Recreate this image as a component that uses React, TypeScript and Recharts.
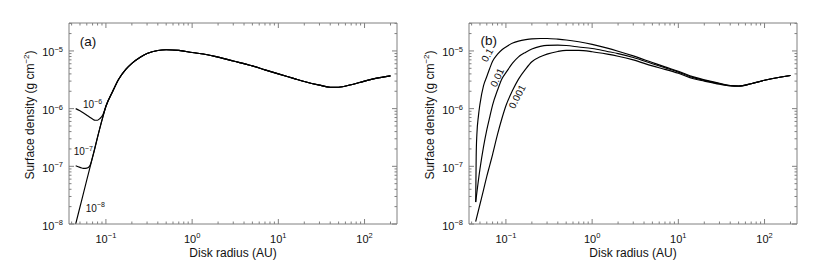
import React from 'react';
import { LineChart, Line, XAxis, YAxis, ReferenceDot, Label } from 'recharts';

// ---------- data ----------
// Panel (a): curves labelled 10^-8 (main), 10^-6, 10^-7
const radiusHeadA = [0.0446, 0.05, 0.055, 0.06, 0.065, 0.07, 0.08, 0.09, 0.1];
const sigmaHeadA8 = [1e-8, 1.97e-8, 3.47e-8, 5.8e-8, 9.3e-8, 1.44e-7, 3.2e-7, 6.3e-7, 1.1e-6];
const radiusTailA = [0.12, 0.14, 0.17, 0.2, 0.25, 0.3, 0.4, 0.5, 0.7, 1, 1.5, 2, 3, 5, 7, 10, 15, 20, 30, 40, 50, 70, 100, 150, 200];
const sigmaTailA = [2.0e-6, 3.2e-6, 4.8e-6, 6.1e-6, 7.8e-6, 9.0e-6, 1.02e-5, 1.05e-5, 1.02e-5, 9.4e-6, 8.6e-6, 7.8e-6, 6.7e-6, 5.5e-6, 4.7e-6, 4.0e-6, 3.35e-6, 2.95e-6, 2.55e-6, 2.35e-6, 2.35e-6, 2.6e-6, 3.0e-6, 3.45e-6, 3.7e-6];
const radiusHeadA6 = [0.0446, 0.05, 0.055, 0.06, 0.065, 0.07, 0.075, 0.08, 0.085, 0.0925, 0.1];
const sigmaHeadA6 = [1.0e-6, 9.2e-7, 8.4e-7, 7.7e-7, 7.1e-7, 6.6e-7, 6.3e-7, 6.3e-7, 6.7e-7, 7.9e-7, 1.1e-6];
const radiusHeadA7 = [0.0446, 0.05, 0.055, 0.06, 0.065, 0.07, 0.08, 0.09, 0.1];
const sigmaHeadA7 = [1.02e-7, 9.6e-8, 9.2e-8, 9.3e-8, 1.02e-7, 1.44e-7, 3.2e-7, 6.3e-7, 1.1e-6];

// Panel (b): curves labelled 0.1, 0.01, 0.001
const radiusB = [0.0446, 0.05, 0.055, 0.06, 0.065, 0.07, 0.08, 0.09, 0.1, 0.12, 0.14, 0.17, 0.2, 0.25, 0.3, 0.4, 0.5, 0.7, 1, 1.5, 2, 3, 5, 7, 10, 15, 20, 30, 40, 50, 70, 100, 150, 200];
const sigmaB001 = [1.1e-8, 2.2e-8, 3.9e-8, 6.7e-8, 1.05e-7, 1.6e-7, 3.6e-7, 6.8e-7, 1.12e-6, 2.1e-6, 3.25e-6, 4.9e-6, 6.5e-6, 7.9e-6, 8.8e-6, 9.8e-6, 1.02e-5, 1.02e-5, 9.7e-6, 8.8e-6, 8.1e-6, 7.0e-6, 5.5e-6, 4.8e-6, 4.1e-6, 3.3e-6, 3.0e-6, 2.65e-6, 2.48e-6, 2.45e-6, 2.7e-6, 3.1e-6, 3.5e-6, 3.75e-6];
const sigmaB01 = [2.4e-8, 9e-8, 2.2e-7, 4.3e-7, 7.2e-7, 1.15e-6, 2.1e-6, 3.3e-6, 4.2e-6, 6.2e-6, 7.9e-6, 9.5e-6, 1.08e-5, 1.2e-5, 1.25e-5, 1.26e-5, 1.24e-5, 1.17e-5, 1.1e-5, 9.8e-6, 9.0e-6, 7.7e-6, 6.0e-6, 5.1e-6, 4.3e-6, 3.45e-6, 3.1e-6, 2.7e-6, 2.5e-6, 2.47e-6, 2.7e-6, 3.1e-6, 3.5e-6, 3.75e-6];
const radiusB1 = [0.0446, 0.0452, 0.046, 0.048, 0.05, 0.055, 0.06, 0.065, 0.07, 0.08, 0.09, 0.1, 0.12, 0.14, 0.17, 0.2, 0.25, 0.3, 0.4, 0.5, 0.7, 1, 1.5, 2, 3, 5, 7, 10, 15, 20, 30, 40, 50, 70, 100, 150, 200];
const sigmaB1 = [2.4e-8, 1.5e-7, 3.5e-7, 7.5e-7, 1.2e-6, 2.5e-6, 3.6e-6, 5.0e-6, 6.6e-6, 8.8e-6, 1.05e-5, 1.17e-5, 1.37e-5, 1.48e-5, 1.57e-5, 1.62e-5, 1.64e-5, 1.64e-5, 1.6e-5, 1.55e-5, 1.44e-5, 1.3e-5, 1.12e-5, 9.9e-6, 8.2e-6, 6.3e-6, 5.3e-6, 4.45e-6, 3.55e-6, 3.15e-6, 2.75e-6, 2.52e-6, 2.47e-6, 2.7e-6, 3.1e-6, 3.5e-6, 3.75e-6];

// ticks
const xTicks = [0.04, 0.05, 0.06, 0.07, 0.08, 0.09, 0.1, 0.2, 0.3, 0.4, 0.5, 0.6, 0.7, 0.8, 0.9, 1, 2, 3, 4, 5, 6, 7, 8, 9, 10, 20, 30, 40, 50, 60, 70, 80, 90, 100, 200];
const yTicks = [1e-8, 2e-8, 3e-8, 4e-8, 5e-8, 6e-8, 7e-8, 8e-8, 9e-8, 1e-7, 2e-7, 3e-7, 4e-7, 5e-7, 6e-7, 7e-7, 8e-7, 9e-7, 1e-6, 2e-6, 3e-6, 4e-6, 5e-6, 6e-6, 7e-6, 8e-6, 9e-6, 1e-5, 2e-5, 3e-5];
const X_DOMAIN: [number, number] = [0.0373, 238];
const Y_DOMAIN: [number, number] = [1e-8, 3.05e-5];

// annotations (data coordinates)
const notesA = [
  { x: 0.0497, y: 1.22e-5, base: '(a)', exp: '', kind: 'panel' },
  { x: 0.0542, y: 1.01e-6, base: '10', exp: '\u22126', kind: 'curve' },
  { x: 0.0423, y: 1.57e-7, base: '10', exp: '\u22127', kind: 'curve' },
  { x: 0.0583, y: 1.63e-8, base: '10', exp: '\u22128', kind: 'curve' },
];
const notesB = [
  { x: 0.0506, y: 1.28e-5, base: '(b)', exp: '', kind: 'panel' },
  { x: 0.0607, y: 8.5e-6, base: '0.1', exp: '', kind: 'rot', angle: -62 },
  { x: 0.0792, y: 3.46e-6, base: '0.01', exp: '', kind: 'rot', angle: -65 },
  { x: 0.135, y: 1.61e-6, base: '0.001', exp: '', kind: 'rot', angle: -63 },
];

// ---------- styling / layout ----------
const FRAME = '#808080';
const INK = '#111';
const FONT = '"Liberation Sans", Arial, Helvetica, sans-serif';
const MAJOR = 5;
const MINOR = 2.5;
const CHART_H = 270;
const TOP = 23;
const X_AXIS_H = 46;
const PLOT_W = 328;
const PLOT_H = CHART_H - TOP - X_AXIS_H;

const logv = (v: number) => Math.log10(v);
const isMajor = (v: number) => Math.abs(logv(v) - Math.round(logv(v))) < 1e-6;
const expText = (v: number) => {
  const e = Math.round(logv(v));
  return e < 0 ? '\u2212' + -e : String(e);
};

// bottom ticks (and their mirrored twins on the top edge of the frame)
const BottomTick = (p: any) => {
  const { x, y, payload } = p;
  const m = isMajor(payload.value);
  const len = m ? MAJOR : MINOR;
  const yTop = y - PLOT_H;
  return (
    <g>
      <line x1={x} x2={x} y1={y} y2={y - len} stroke={FRAME} strokeWidth={1} />
      <line x1={x} x2={x} y1={yTop} y2={yTop + len} stroke={FRAME} strokeWidth={1} />
      {m && (
        <text x={x} y={y + 19.3} textAnchor="middle" fontSize={11} fill={INK} fontFamily={FONT}>
          10<tspan dy={-5} fontSize={7.5}>{expText(payload.value)}</tspan>
        </text>
      )}
    </g>
  );
};
// left ticks (and their mirrored twins on the right edge of the frame)
const LeftTick = (p: any) => {
  const { x, y, payload } = p;
  const m = isMajor(payload.value);
  const len = m ? MAJOR : MINOR;
  const xRight = x + PLOT_W;
  return (
    <g>
      <line x1={x} x2={x + len} y1={y} y2={y} stroke={FRAME} strokeWidth={1} />
      <line x1={xRight} x2={xRight - len} y1={y} y2={y} stroke={FRAME} strokeWidth={1} />
      {m && (
        <text x={x - 6} y={y + 5.5} textAnchor="end" fontSize={11} fill={INK} fontFamily={FONT}>
          10<tspan dy={-4.5} fontSize={7.5}>{expText(payload.value)}</tspan>
        </text>
      )}
    </g>
  );
};

// x-axis title; also closes the frame (top and right edges) from the axis box
const XTitle = (p: any) => {
  const vb = p.viewBox;
  const left = vb.x;
  const right = vb.x + vb.width;
  const bottom = vb.y;
  const top = bottom - PLOT_H;
  return (
    <g>
      <line x1={left} x2={right} y1={top} y2={top} stroke={FRAME} strokeWidth={1} />
      <line x1={right} x2={right} y1={top} y2={bottom} stroke={FRAME} strokeWidth={1} />
      <text x={vb.x + vb.width / 2} y={vb.y + 33} textAnchor="middle" fontSize={12} fill={INK} fontFamily={FONT}>
        Disk radius (AU)
      </text>
    </g>
  );
};
const YTitle = (p: any) => {
  const vb = p.viewBox;
  const x = vb.x + vb.width - 35.5;
  const y = vb.y + vb.height / 2 - 8.5;
  return (
    <text x={x} y={y} transform={`rotate(-90 ${x} ${y})`} textAnchor="middle" fontSize={12} fill={INK} fontFamily={FONT}>
      Surface density (g cm<tspan dy={-4.5} fontSize={8}>{'\u22122'}</tspan>
      <tspan dy={4.5}>)</tspan>
    </text>
  );
};

const noteShape = (n: any) => (p: any) => {
  const { cx, cy } = p;
  if (n.kind === 'panel') {
    return (
      <text x={cx} y={cy} fontSize={13.5} fill={INK} fontFamily={FONT}>
        {n.base}
      </text>
    );
  }
  if (n.kind === 'rot') {
    return (
      <text x={cx} y={cy} transform={`rotate(${n.angle} ${cx} ${cy})`} textAnchor="middle" dominantBaseline="central" fontSize={10} fill={INK} fontFamily={FONT}>
        {n.base}
      </text>
    );
  }
  return (
    <text x={cx} y={cy} fontSize={10} fill={INK} fontFamily={FONT}>
      {n.base}
      <tspan dy={-4.5} fontSize={7}>{n.exp}</tspan>
    </text>
  );
};

const toRows = (r: number[], s: number[]) => r.map((v, i) => ({ r: v, s: s[i] }));

type Series = { key: string; rows: { r: number; s: number }[] };

function Panel(props: { width: number; yWidth: number; right: number; series: Series[]; notes: any[] }) {
  const { width, yWidth, right, series, notes } = props;
  return (
    <LineChart width={width} height={CHART_H} margin={{ top: TOP, right, bottom: 0, left: 0 }}>
      <XAxis dataKey="r" type="number" scale="log" domain={X_DOMAIN} allowDataOverflow ticks={xTicks} interval={0}
        tickSize={0} tickMargin={0} tickLine={false} axisLine={{ stroke: FRAME }} tick={BottomTick} height={X_AXIS_H}>
        <Label content={XTitle} />
      </XAxis>
      <YAxis type="number" scale="log" domain={Y_DOMAIN} allowDataOverflow ticks={yTicks} interval={0} width={yWidth}
        tickSize={0} tickMargin={0} tickLine={false} axisLine={{ stroke: FRAME }} tick={LeftTick}>
        <Label content={YTitle} />
      </YAxis>
      {series.map((s) => (
        <Line key={s.key} data={s.rows} dataKey="s" type="monotone" stroke="#000" strokeWidth={1.15} dot={false}
          activeDot={false} isAnimationActive={false} />
      ))}
      {notes.map((n, i) => (
        <ReferenceDot key={i} x={n.x} y={n.y} r={0} ifOverflow="visible" shape={noteShape(n)} />
      ))}
    </LineChart>
  );
}

export default function App() {
  const seriesA: Series[] = [
    { key: 'a8', rows: toRows([...radiusHeadA, ...radiusTailA], [...sigmaHeadA8, ...sigmaTailA]) },
    { key: 'a7', rows: toRows([...radiusHeadA7, ...radiusTailA], [...sigmaHeadA7, ...sigmaTailA]) },
    { key: 'a6', rows: toRows([...radiusHeadA6, ...radiusTailA], [...sigmaHeadA6, ...sigmaTailA]) },
  ];
  const seriesB: Series[] = [
    { key: 'b1', rows: toRows(radiusB1, sigmaB1) },
    { key: 'b01', rows: toRows(radiusB, sigmaB01) },
    { key: 'b001', rows: toRows(radiusB, sigmaB001) },
  ];
  return (
    <div style={{ position: 'absolute', left: 0, top: 0, width: 817, height: 270, background: '#fff', display: 'flex' }}>
      <Panel width={409} yWidth={69} right={12} series={seriesA} notes={notesA} />
      <Panel width={408} yWidth={60} right={20} series={seriesB} notes={notesB} />
    </div>
  );
}
